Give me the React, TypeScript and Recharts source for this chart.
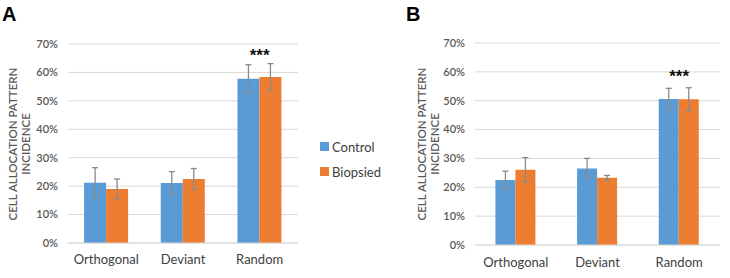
import { BarChart, Bar, XAxis, YAxis, CartesianGrid, ErrorBar, ReferenceDot } from 'recharts';

const categories = ['Orthogonal', 'Deviant', 'Random'];
const seriesNames = ['Control', 'Biopsied'];
const seriesColors = ['#5B9BD5', '#ED7D31'];
const yTicks = [0, 10, 20, 30, 40, 50, 60, 70];

// panel A (%)
const controlA = [21.2, 21.1, 57.8];
const controlErrA = [5.3, 4.0, 4.9];
const biopsiedA = [19.0, 22.5, 58.4];
const biopsiedErrA = [3.5, 3.7, 4.7];

// panel B (%)
const controlB = [22.5, 26.5, 50.6];
const controlErrB = [3.1, 3.5, 3.7];
const biopsiedB = [26.1, 23.3, 50.5];
const biopsiedErrB = [4.2, 0.8, 4.0];

const FONT = 'Lato, "Open Sans", sans-serif';

const buildRows = (c: number[], ce: number[], b: number[], be: number[]) =>
  categories.map((name, i) => ({ name, control: c[i], controlErr: ce[i], biopsied: b[i], biopsiedErr: be[i] }));

interface PanelProps {
  rows: ReturnType<typeof buildRows>;
  left: number;
  width: number;
  yAxisWidth: number;
  margin: { top: number; right: number; bottom: number; left: number };
  gap: string;
  starsAt: number;
  xTickMargin: number;
}

function Panel({ rows, left, width, yAxisWidth, margin, gap, starsAt, xTickMargin }: PanelProps) {
  return (
    <div style={{ position: 'absolute', left, top: 0 }}>
      <BarChart width={width} height={278} data={rows} margin={margin} barGap={0} barCategoryGap={gap}>
        <CartesianGrid vertical={false} stroke="#d9d9d9" />
        <XAxis
          dataKey="name"
          axisLine={{ stroke: '#d9d9d9' }}
          tickLine={false}
          height={30}
          tickMargin={xTickMargin}
          tick={{ fill: '#404040', fontSize: 13, fontFamily: FONT }}
        />
        <YAxis
          width={yAxisWidth}
          domain={[0, 70]}
          ticks={yTicks}
          axisLine={false}
          tickLine={false}
          tickMargin={4}
          tickFormatter={(v: number) => `${v}%`}
          tick={{ fill: '#595959', fontSize: 11, fontFamily: FONT, fontWeight: 600 }}
        />
        <Bar dataKey="control" name={seriesNames[0]} fill={seriesColors[0]} isAnimationActive={false}>
          <ErrorBar dataKey="controlErr" width={3} stroke="#8a8a8a" strokeWidth={1.3} />
        </Bar>
        <Bar dataKey="biopsied" name={seriesNames[1]} fill={seriesColors[1]} isAnimationActive={false}>
          <ErrorBar dataKey="biopsiedErr" width={3} stroke="#8a8a8a" strokeWidth={1.3} />
        </Bar>
        {/* significance marker over the Random pair */}
        <ReferenceDot
          x="Random"
          y={starsAt}
          r={0}
          ifOverflow="visible"
          label={{ value: '***', position: 'center', fill: '#111', fontSize: 17, fontWeight: 700, fontFamily: 'Liberation Sans, Arial, sans-serif' }}
        />
      </BarChart>
    </div>
  );
}

function AxisTitle({ cx, cy }: { cx: number; cy: number }) {
  return (
    <div
      style={{
        position: 'absolute',
        left: cx,
        top: cy,
        transform: 'translate(-50%, -50%) rotate(-90deg)',
        whiteSpace: 'nowrap',
        textAlign: 'center',
        fontFamily: FONT,
        fontSize: 11.5,
        fontWeight: 600,
        lineHeight: '13px',
        color: '#595959',
      }}
    >
      CELL ALLOCATION PATTERN
      <br />
      INCIDENCE
    </div>
  );
}

function PanelLetter({ x, text }: { x: number; text: string }) {
  return (
    <div
      style={{
        position: 'absolute',
        left: x,
        top: 3,
        fontFamily: 'Liberation Sans, Arial, sans-serif',
        fontWeight: 700,
        fontSize: 20,
        lineHeight: '22px',
        color: '#000',
      }}
    >
      {text}
    </div>
  );
}

export default function App() {
  const rowsA = buildRows(controlA, controlErrA, biopsiedA, biopsiedErrA);
  const rowsB = buildRows(controlB, controlErrB, biopsiedB, biopsiedErrB);

  return (
    <div style={{ position: 'fixed', left: 0, top: 0, width: 730, height: 278, background: '#fff', overflow: 'hidden' }}>
      <PanelLetter x={2} text="A" />
      <PanelLetter x={406} text="B" />
      <AxisTitle cx={19} cy={144} />
      <AxisTitle cx={428} cy={144} />

      <Panel
        rows={rowsA}
        left={0}
        width={300}
        yAxisWidth={68}
        margin={{ top: 44, right: 2, bottom: 5, left: 0 }}
        gap="21%"
        starsAt={66}
        xTickMargin={6}
      />
      <Panel
        rows={rowsB}
        left={365}
        width={365}
        yAxisWidth={110}
        margin={{ top: 43, right: 10, bottom: 3, left: 0 }}
        gap="25%"
        starsAt={58.5}
        xTickMargin={7}
      />

      {/* legend sits between the two panels */}
      <div style={{ position: 'absolute', left: 320, top: 134, fontFamily: FONT, fontSize: 13, color: '#404040' }}>
        {seriesNames.map((n, i) => (
          <div key={n} style={{ display: 'flex', alignItems: 'center', height: 25 }}>
            <span style={{ display: 'inline-block', width: 9, height: 9, background: seriesColors[i], marginRight: 3 }} />
            {n}
          </div>
        ))}
      </div>
    </div>
  );
}
